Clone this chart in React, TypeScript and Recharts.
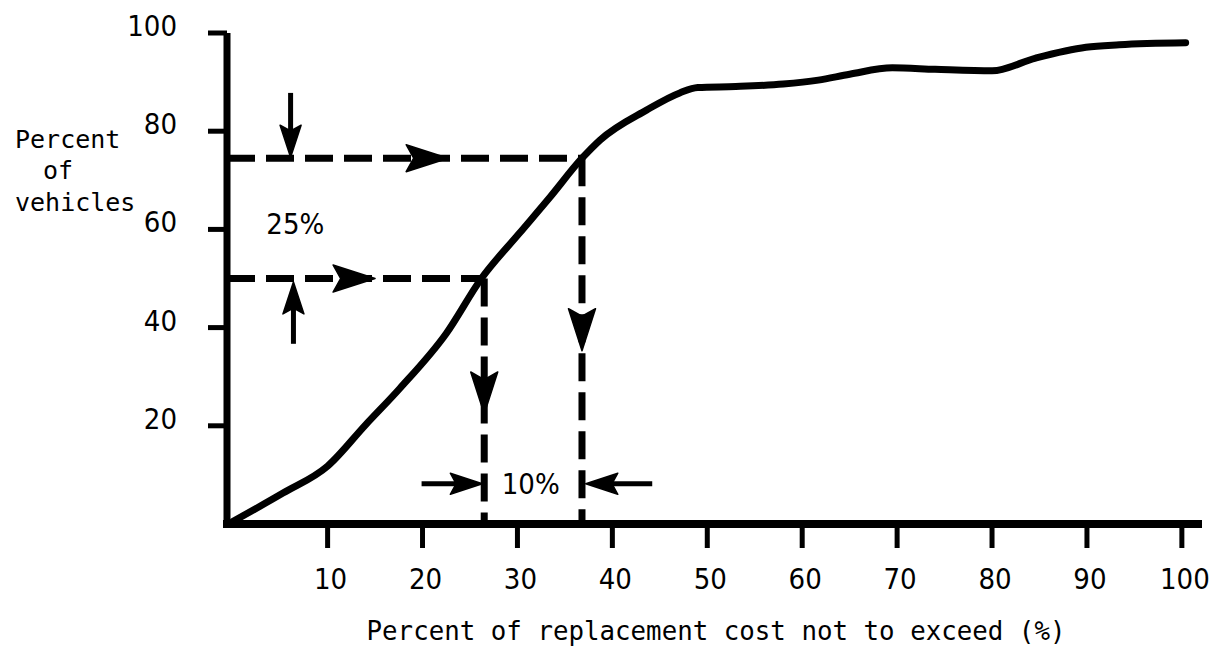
import React from 'react';
import { LineChart, Line, XAxis, YAxis, ReferenceLine, ReferenceDot, Label } from 'recharts';

// ---- data ----
const costPct = [0, 5.3, 10, 14, 17.6, 22.5, 26.2, 30.2, 33.4, 36.8, 38.7, 43.6, 47.1, 49, 53, 58, 61.7, 65, 69.5, 74, 80, 84.6, 89.9, 93.4, 100.4];
const vehiclePct = [0.5, 6.3, 11.8, 20.2, 27.6, 38.8, 50, 59.2, 66.5, 74.5, 78.2, 84.3, 87.8, 88.9, 89.1, 89.6, 90.4, 91.6, 92.9, 92.6, 92.3, 94.9, 97.1, 97.6, 98.0];
const xTicks = [10, 20, 30, 40, 50, 60, 70, 80, 90, 100];
const yTicks = [20, 40, 60, 80, 100];
const xDomain = [-0.6, 101.7];
const yDomain = [0, 100];

// guide lines: cost read-off for 50% and 74.5% of vehicles
const guideCost = [26.5, 36.8];
const guideVehicles = [50, 74.5];

// annotation labels [text, x, y]
const spreadLabels = ['25%', '10%'];
const spreadLabelX = [6.6, 31.4];
const spreadLabelY = [61.2, 8.2];

// arrows with shafts: tail -> tip
const shaftTailX = [6.1, 6.4, 19.9, 44.2];
const shaftTailY = [87.8, 36.7, 8.2, 8.2];
const shaftTipX = [6.1, 6.4, 26.3, 37.2];
const shaftTipY = [74.7, 49.3, 8.2, 8.2];

// arrow heads sitting on the dashed guide lines: tail -> tip (direction only)
const headTailX = [0, 0, 26.5, 36.8];
const headTailY = [74.5, 50, 50, 74.5];
const headTipX = [22.7, 15.0, 26.5, 36.8];
const headTipY = [74.5, 50, 22.4, 35.3];

const xTitle = 'Percent of replacement cost not to exceed (%)';
const yTitleLines = ['Percent', 'of', 'vehicles'];

const data = costPct.map((x, i) => ({ x, v: vehiclePct[i] }));

const NUM_FONT = "'Liberation Sans Narrow', 'DejaVu Sans Condensed', Roboto, sans-serif";
const MONO_FONT = "'DejaVu Sans Mono', 'Liberation Mono', monospace";

function dirOf(x1: number, y1: number, x2: number, y2: number) {
  if (Math.abs(x2 - x1) > Math.abs(y2 - y1)) return x2 > x1 ? 'right' : 'left';
  return y2 > y1 ? 'up' : 'down';
}

function ArrowHead(props: any) {
  const { cx, cy, dir, len, w } = props;
  if (cx == null || cy == null) return null;
  const n = len * 0.82;
  // head pointing right at origin, then rotated
  const pts = `0,0 ${-len},${-w / 2} ${-n},0 ${-len},${w / 2}`;
  const rot = dir === 'right' ? 0 : dir === 'left' ? 180 : dir === 'down' ? 90 : -90;
  return (
    <polygon
      points={pts}
      transform={`translate(${cx},${cy}) rotate(${rot})`}
      fill="#000"
      stroke="#000"
      strokeWidth={1.5}
      strokeLinejoin="round"
    />
  );
}

function XTick(props: any) {
  const { x, y, payload } = props;
  return (
    <text x={x + 3} y={y + 39} textAnchor="middle" fontSize={29} fontFamily={NUM_FONT} fill="#000">
      {payload.value}
    </text>
  );
}

function YTick(props: any) {
  const { x, y, payload } = props;
  return (
    <text x={x - 29} y={y + 3} textAnchor="end" fontSize={29} fontFamily={NUM_FONT} fill="#000">
      {payload.value}
    </text>
  );
}

export default function App() {
  const dash = '28 11';
  return (
    <div style={{ position: 'absolute', left: 0, top: 0, width: 1219, height: 650, background: '#fff' }}>
      <LineChart width={1219} height={650} data={data} margin={{ top: 33, right: 21, left: 167, bottom: 66 }}>
        <XAxis
          type="number"
          dataKey="x"
          domain={xDomain}
          ticks={xTicks}
          allowDataOverflow
          interval={0}
          height={60}
          tickSize={24}
          tickMargin={2}
          axisLine={{ stroke: '#000', strokeWidth: 8, strokeLinecap: 'square' }}
          tickLine={{ stroke: '#000', strokeWidth: 5 }}
          tick={<XTick />}
        >
          <Label
            content={() => (
              <text x={716} y={640} textAnchor="middle" fontSize={25.8} fontFamily={MONO_FONT} fill="#000">
                {xTitle}
              </text>
            )}
          />
        </XAxis>
        <YAxis
          type="number"
          domain={yDomain}
          ticks={yTicks}
          allowDataOverflow
          interval={0}
          width={60}
          tickSize={19}
          tickMargin={2}
          axisLine={{ stroke: '#000', strokeWidth: 7 }}
          tickLine={{ stroke: '#000', strokeWidth: 5 }}
          tick={<YTick />}
        >
          <Label
            content={() => (
              <g fontSize={25} fontFamily={MONO_FONT} fill="#000">
                <text x={15} y={148}>{yTitleLines[0]}</text>
                <text x={43} y={179}>{yTitleLines[1]}</text>
                <text x={15} y={211}>{yTitleLines[2]}</text>
              </g>
            )}
          />
        </YAxis>

        {/* dashed guide lines */}
        {guideCost.map((c, i) => (
          <ReferenceLine
            key={'h' + i}
            segment={[{ x: xDomain[0], y: guideVehicles[i] }, { x: c, y: guideVehicles[i] }]}
            stroke="#000"
            strokeWidth={7}
            strokeDasharray={dash}
          />
        ))}
        {guideCost.map((c, i) => (
          <ReferenceLine
            key={'v' + i}
            segment={[{ x: c, y: guideVehicles[i] }, { x: c, y: 0 }]}
            stroke="#000"
            strokeWidth={7}
            strokeDasharray={dash}
          />
        ))}

        {/* arrow shafts */}
        {shaftTailX.map((tx, i) => {
          const ex = shaftTipX[i] + (tx - shaftTipX[i]) * 0.3;
          const ey = shaftTipY[i] + (shaftTailY[i] - shaftTipY[i]) * 0.3;
          return (
            <ReferenceLine
              key={'s' + i}
              segment={[{ x: tx, y: shaftTailY[i] }, { x: ex, y: ey }]}
              stroke="#000"
              strokeWidth={5}
            />
          );
        })}
        {shaftTailX.map((tx, i) => (
          <ReferenceDot
            key={'sh' + i}
            x={shaftTipX[i]}
            y={shaftTipY[i]}
            r={1}
            shape={(p: any) => (
              <ArrowHead cx={p.cx} cy={p.cy} dir={dirOf(tx, shaftTailY[i], shaftTipX[i], shaftTipY[i])} len={32} w={21} />
            )}
          />
        ))}
        {headTailX.map((tx, i) => (
          <ReferenceDot
            key={'lh' + i}
            x={headTipX[i]}
            y={headTipY[i]}
            r={1}
            shape={(p: any) => (
              <ArrowHead cx={p.cx} cy={p.cy} dir={dirOf(tx, headTailY[i], headTipX[i], headTipY[i])} len={42} w={27} />
            )}
          />
        ))}

        {/* spread labels */}
        {spreadLabels.map((t, i) => (
          <ReferenceDot
            key={'t' + i}
            x={spreadLabelX[i]}
            y={spreadLabelY[i]}
            r={1}
            shape={(p: any) => (
              <text x={p.cx} y={p.cy + 10} textAnchor="middle" fontSize={29} fontFamily={NUM_FONT} fill="#000">
                {t}
              </text>
            )}
          />
        ))}

        <Line
          type="monotone"
          dataKey="v"
          stroke="#000"
          strokeWidth={7}
          dot={false}
          activeDot={false}
          isAnimationActive={false}
          strokeLinecap="round"
          strokeLinejoin="round"
        />
      </LineChart>
    </div>
  );
}
